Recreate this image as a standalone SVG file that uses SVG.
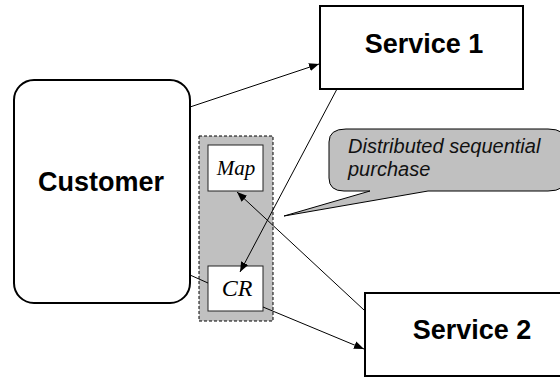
<svg xmlns="http://www.w3.org/2000/svg" width="560" height="377" viewBox="0 0 560 377">
  <style>
    .box { fill: #fff; stroke: #000; stroke-width: 2; }
    .small { fill: #fff; stroke: #222; stroke-width: 1; }
    .bold { font-family: "Liberation Sans", Arial, sans-serif; font-weight: bold; font-size: 27px; text-anchor: middle; fill: #000; }
    .math { font-family: "Liberation Serif", "Times New Roman", serif; font-style: italic; text-anchor: middle; fill: #000; }
    .note { font-family: "Liberation Sans", Arial, sans-serif; font-style: italic; font-size: 20px; fill: #111; }
    .conn { stroke: #000; stroke-width: 1; fill: none; }
  </style>
  <defs>
    <marker id="arrow" viewBox="0 0 10 10" refX="10" refY="5" markerWidth="10" markerHeight="10" markerUnits="userSpaceOnUse" orient="auto">
      <path d="M0,1 L10,5 L0,9 z" fill="#000"/>
    </marker>
  </defs>
  <rect width="560" height="377" fill="#fff"/>

  <g id="customer">
    <rect class="box" x="14" y="80" width="176" height="223" rx="20" ry="20"/>
    <text class="bold" x="101" y="191">Customer</text>
  </g>

  <g id="service1">
    <rect class="box" x="320" y="6" width="203" height="83"/>
    <text class="bold" x="424" y="53">Service 1</text>
  </g>

  <g id="service2">
    <rect class="box" x="365" y="293" width="210" height="83"/>
    <text class="bold" x="472" y="339">Service 2</text>
  </g>

  <g id="middleware">
    <rect x="199" y="136" width="74" height="185" fill="#c0c0c0" stroke="#000" stroke-width="1" stroke-dasharray="3,2"/>
  </g>

  <g id="map">
    <rect class="small" x="208" y="145" width="55" height="46"/>
    <text class="math" x="236" y="175" font-size="21">Map</text>
  </g>

  <g id="cr">
    <rect class="small" x="208" y="266" width="55" height="45"/>
    <text class="math" x="237" y="296" font-size="24">CR</text>
  </g>

  <g id="callout">
    <path d="M346,129 L548,129 Q566,129 566,142 L566,178 Q566,191 548,191 L428,191 L284,216 L370,191 L344,191 Q329,191 329,178 L329,142 Q329,129 346,129 Z" fill="#c0c0c0" stroke="#000" stroke-width="1"/>
    <text class="note" x="348" y="153">Distributed sequential</text>
    <text class="note" x="348" y="176">purchase</text>
  </g>

  <g id="connectors">
    <line class="conn" x1="190" y1="107" x2="319" y2="64" marker-end="url(#arrow)"/>
    <line class="conn" x1="337" y1="89" x2="240" y2="272" marker-end="url(#arrow)"/>
    <line class="conn" x1="364" y1="310" x2="237" y2="192" marker-end="url(#arrow)"/>
    <line class="conn" x1="190" y1="275" x2="208" y2="283"/>
    <line class="conn" x1="263" y1="307" x2="364" y2="349" marker-end="url(#arrow)"/>
  </g>
</svg>
